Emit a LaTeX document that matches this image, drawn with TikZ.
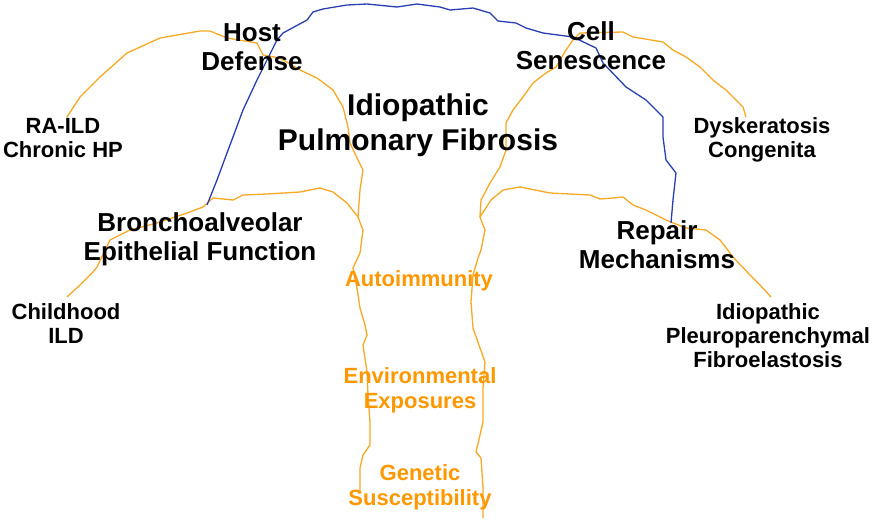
\documentclass[tikz,border=0pt]{standalone}
\usepackage{fontspec}
\setmainfont{Liberation Sans}
\definecolor{twig}{RGB}{247,168,36}
\definecolor{vein}{RGB}{40,62,178}
\definecolor{cause}{RGB}{255,152,0}
\tikzset{
  big/.style={font=\bfseries\fontsize{30}{35}\selectfont, align=center},
  mid/.style={font=\bfseries\fontsize{26}{29}\selectfont, align=center},
  small/.style={font=\bfseries\fontsize{22}{24}\selectfont, align=center},
  risk/.style={font=\bfseries\fontsize{22}{25}\selectfont, align=center, text=cause},
  branch/.style={twig, line width=1.3pt, line join=round},
  vessel/.style={vein, line width=1.3pt, line join=round}
}
\begin{document}
\begin{tikzpicture}[x=1pt,y=-1pt]
  \useasboundingbox (0,0) rectangle (873,525);

  \coordinate (lj) at (358,217);
  \coordinate (rj) at (480,217);

  \draw[branch] (67,117) -- (80,97) -- (100,77) -- (127,53) -- (160,38) -- (200,31) -- (210,31)
    -- (227,38) -- (257,43) -- (263,55) -- (280,58) -- (300,70) -- (317,78) -- (333,90)
    -- (343,107) -- (348,127) -- (350,143) -- (358,160) -- (363,170) -- (360,190) -- (lj)
    -- (363,230) -- (360,253) -- (353,268) -- (357,288) -- (360,308) -- (365,325) -- (367,335)
    -- (363,345) -- (367,372) -- (368,395) -- (370,422) -- (370,445) -- (363,455) -- (360,468)
    -- (360,492);
  \draw[branch] (67,297) -- (80,285) -- (93,272) -- (97,267) -- (110,240) -- (130,230) -- (157,223)
    -- (187,213) -- (203,207) -- (213,198) -- (233,200) -- (243,195) -- (267,194) -- (300,192)
    -- (320,188) -- (333,192) -- (347,203) -- (lj);

  \draw[branch] (746,117) -- (743,107) -- (726,90) -- (713,80) -- (700,67) -- (686,57) -- (673,50)
    -- (663,42) -- (633,37) -- (623,32) -- (580,33) -- (573,40) -- (566,50) -- (556,67) -- (546,73)
    -- (533,83) -- (523,97) -- (513,110) -- (506,123) -- (506,150) -- (500,167) -- (490,183)
    -- (481,200) -- (rj) -- (485,230) -- (481,250) -- (478,258) -- (473,275) -- (471,302)
    -- (473,328) -- (480,348) -- (485,362) -- (483,388) -- (483,422) -- (480,435) -- (476,452)
    -- (481,458) -- (483,488) -- (483,518);
  \draw[branch] (rj) -- (491,200) -- (503,190) -- (520,187) -- (550,193) -- (590,195) -- (600,199)
    -- (613,198) -- (623,197) -- (633,205) -- (646,210) -- (666,220) -- (686,228) -- (706,230)
    -- (720,240) -- (733,257) -- (750,275) -- (760,285) -- (771,297);

  \draw[vessel] (207,205) -- (217,180) -- (227,153) -- (233,137) -- (243,110) -- (257,80) -- (267,60)
    -- (277,40) -- (283,33) -- (307,20) -- (313,12) -- (323,9) -- (347,5) -- (367,4) -- (397,7)
    -- (417,4) -- (440,7) -- (450,10) -- (473,8) -- (490,13) -- (498,21) -- (516,23) -- (526,28)
    -- (543,33) -- (573,37) -- (596,48) -- (603,63) -- (626,87) -- (646,100) -- (663,117)
    -- (663,137) -- (666,160) -- (676,173) -- (673,200) -- (671,223);

  \node[big] (ipf) at (418,125) {Idiopathic\\Pulmonary Fibrosis};
  \node[mid] (host) at (252,47) {Host\\Defense};
  \node[mid] (cell) at (591,46) {Cell\\Senescence};
  \node[mid] (epith) at (200,239) {Bronchoalveolar\\Epithelial Function};
  \node[mid] (repair) at (657,245) {Repair\\Mechanisms};

  \node[small] (raild) at (63,138) {RA-ILD\\Chronic HP};
  \node[small] (dc) at (762,140) {Dyskeratosis\\Congenita};
  \node[small] (child) at (66,324) {Childhood\\ILD};
  \node[small] (ppfe) at (768,336) {Idiopathic\\Pleuroparenchymal\\Fibroelastosis};

  \node[risk] (auto) at (419,281) {Autoimmunity};
  \node[risk] (env) at (420,390) {Environmental\\Exposures};
  \node[risk] (gen) at (420,487) {Genetic\\Susceptibility};

\end{tikzpicture}
\end{document}
